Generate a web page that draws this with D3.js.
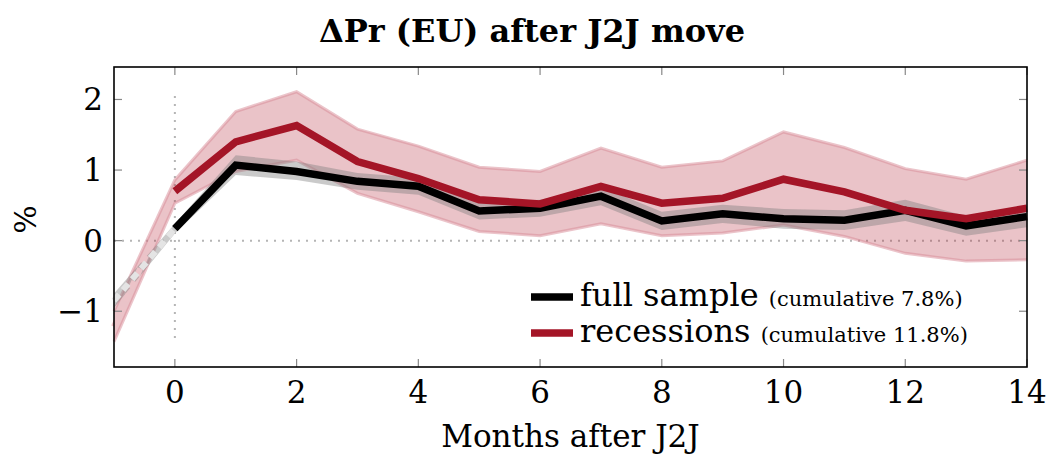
<!DOCTYPE html>
<html>
<head>
<meta charset="utf-8">
<script src="https://cdn.jsdelivr.net/npm/d3@7/dist/d3.min.js"></script>
<style>
  body { margin: 0; background: #fff; }
  svg { display: block; font-family: "DejaVu Serif", "Liberation Serif", serif; }
</style>
</head>
<body>
<svg id="chart"></svg>
<script>
// months after the job-to-job move (-1 is the pre-period)
const months = [-1, 0, 1, 2, 3, 4, 5, 6, 7, 8, 9, 10, 11, 12, 13, 14];

// full sample: point estimate and confidence band
const fullMean = [-0.85, 0.17, 1.07, 0.98, 0.84, 0.77, 0.42, 0.46, 0.63, 0.28, 0.38, 0.31, 0.29, 0.43, 0.21, 0.34];
const fullLo   = [-0.95, 0.10, 0.93, 0.86, 0.72, 0.65, 0.30, 0.34, 0.50, 0.15, 0.25, 0.17, 0.15, 0.28, 0.07, 0.19];
const fullHi   = [-0.75, 0.24, 1.21, 1.12, 0.96, 0.89, 0.54, 0.58, 0.76, 0.41, 0.51, 0.45, 0.43, 0.58, 0.35, 0.49];

// recessions: point estimate and confidence band
const recMean = [-1.22, 0.70, 1.40, 1.63, 1.12, 0.88, 0.58, 0.52, 0.77, 0.53, 0.60, 0.87, 0.69, 0.43, 0.31, 0.46];
const recLo   = [-1.43, 0.53, 0.98, 1.14, 0.67, 0.41, 0.13, 0.07, 0.24, 0.07, 0.11, 0.22, 0.06, -0.18, -0.29, -0.27];
const recHi   = [-1.00, 0.86, 1.83, 2.11, 1.58, 1.34, 1.04, 0.98, 1.31, 1.04, 1.13, 1.54, 1.32, 1.02, 0.87, 1.14];

const xTicks = [0, 2, 4, 6, 8, 10, 12, 14];
const yTicks = [-1, 0, 1, 2];

const legendNames = ["full sample", "recessions"];
const legendNotes = ["(cumulative 7.8%)", "(cumulative 11.8%)"];

const width = 1050, height = 459;
const margin = { top: 67, right: 23, bottom: 92, left: 114 };

const svg = d3.select("#chart").attr("width", width).attr("height", height);

const x = d3.scaleLinear().domain([-1, 14]).range([margin.left, width - margin.right]);
const y = d3.scaleLinear().domain([-1.79, 2.46]).range([height - margin.bottom, margin.top]);

const red = "#a41527";

function rows(mean, lo, hi) {
    return months.map((m, i) => ({ m: m, v: mean[i], lo: lo[i], hi: hi[i] }));
}
const full = rows(fullMean, fullLo, fullHi);
const rec = rows(recMean, recLo, recHi);

const area = d3.area().x(d => x(d.m)).y0(d => y(d.lo)).y1(d => y(d.hi));
const line = d3.line().x(d => x(d.m)).y(d => y(d.v));

// dotted reference lines
svg.append("line")
    .attr("x1", x(-1)).attr("x2", x(14))
    .attr("y1", y(0)).attr("y2", y(0))
    .attr("stroke", "#b5b5b5").attr("stroke-width", 2)
    .attr("stroke-dasharray", "2,6");
svg.append("line")
    .attr("x1", x(0)).attr("x2", x(0))
    .attr("y1", y(2.05)).attr("y2", y(-1.45))
    .attr("stroke", "#b5b5b5").attr("stroke-width", 2)
    .attr("stroke-dasharray", "2,6");

// bands
svg.append("path").datum(rec).attr("d", area)
    .attr("fill", "#b22234").attr("fill-opacity", 0.27);
svg.append("path").datum(rec).attr("d", d3.line().x(d => x(d.m)).y(d => y(d.hi)))
    .attr("fill", "none").attr("stroke", "#d88a95").attr("stroke-opacity", 0.5).attr("stroke-width", 3);
svg.append("path").datum(rec).attr("d", d3.line().x(d => x(d.m)).y(d => y(d.lo)))
    .attr("fill", "none").attr("stroke", "#d88a95").attr("stroke-opacity", 0.5).attr("stroke-width", 3);

svg.append("path").datum(full).attr("d", area)
    .attr("fill", "#7a7a7a").attr("fill-opacity", 0.4);

// pre-period (dashed, faint)
svg.append("path").datum(rec.slice(0, 2)).attr("d", line)
    .attr("fill", "none").attr("stroke", "#ecc3c8").attr("stroke-width", 6)
    .attr("stroke-dasharray", "8,6");
svg.append("path").datum(full.slice(0, 2)).attr("d", line)
    .attr("fill", "none").attr("stroke", "#e4e4e4").attr("stroke-width", 6)
    .attr("stroke-dasharray", "8,6");

// post-period lines
svg.append("path").datum(full.slice(1)).attr("d", line)
    .attr("fill", "none").attr("stroke", "#000").attr("stroke-width", 7.5)
    .attr("stroke-linejoin", "miter");
svg.append("path").datum(rec.slice(1)).attr("d", line)
    .attr("fill", "none").attr("stroke", red).attr("stroke-width", 7.5)
    .attr("stroke-linejoin", "miter");

// inward ticks on all four sides
const tickLen = 8;
xTicks.forEach(t => {
    svg.append("line").attr("x1", x(t)).attr("x2", x(t))
        .attr("y1", y.range()[0]).attr("y2", y.range()[0] - tickLen)
        .attr("stroke", "#888").attr("stroke-width", 1.2);
    svg.append("line").attr("x1", x(t)).attr("x2", x(t))
        .attr("y1", y.range()[1]).attr("y2", y.range()[1] + tickLen)
        .attr("stroke", "#888").attr("stroke-width", 1.2);
});
yTicks.forEach(t => {
    svg.append("line").attr("x1", x.range()[0]).attr("x2", x.range()[0] + tickLen)
        .attr("y1", y(t)).attr("y2", y(t))
        .attr("stroke", "#888").attr("stroke-width", 1.2);
    svg.append("line").attr("x1", x.range()[1]).attr("x2", x.range()[1] - tickLen)
        .attr("y1", y(t)).attr("y2", y(t))
        .attr("stroke", "#888").attr("stroke-width", 1.2);
});

// frame
svg.append("rect")
    .attr("x", x.range()[0]).attr("y", y.range()[1])
    .attr("width", x.range()[1] - x.range()[0])
    .attr("height", y.range()[0] - y.range()[1])
    .attr("fill", "none").attr("stroke", "#000").attr("stroke-width", 1.6);

// tick labels
svg.selectAll(".xlab").data(xTicks).enter().append("text")
    .attr("class", "xlab")
    .attr("x", d => x(d)).attr("y", 403)
    .attr("text-anchor", "middle")
    .style("font-size", "31px")
    .text(d => d);

svg.selectAll(".ylab").data(yTicks).enter().append("text")
    .attr("class", "ylab")
    .attr("x", 103).attr("y", d => y(d) + 11)
    .attr("text-anchor", "end")
    .style("font-size", "31px")
    .text(d => d < 0 ? "\u2212" + Math.abs(d) : d);

// axis titles
svg.append("text")
    .attr("x", x(6.5)).attr("y", 447)
    .attr("text-anchor", "middle")
    .style("font-size", "31px")
    .text("Months after J2J");

svg.append("text")
    .attr("transform", "translate(36," + y(0.3) + ") rotate(-90)")
    .attr("text-anchor", "middle")
    .style("font-size", "30px")
    .text("%");

// title
svg.append("text")
    .attr("x", 532).attr("y", 42)
    .attr("text-anchor", "middle")
    .style("font-size", "32px")
    .style("font-weight", "bold")
    .text("\u0394Pr (EU) after J2J move");

// legend
const legend = svg.append("g");
[0, 1].forEach(i => {
    const ly = 297 + i * 36;
    legend.append("line")
        .attr("x1", 531).attr("x2", 573)
        .attr("y1", ly).attr("y2", ly)
        .attr("stroke", i === 0 ? "#000" : red).attr("stroke-width", 7.5);
    const t = legend.append("text")
        .attr("x", 580).attr("y", ly + 9);
    t.append("tspan").style("font-size", "32px").text(legendNames[i] + " ");
    t.append("tspan").style("font-size", "21px").text(legendNotes[i]);
});
</script>
</body>
</html>
